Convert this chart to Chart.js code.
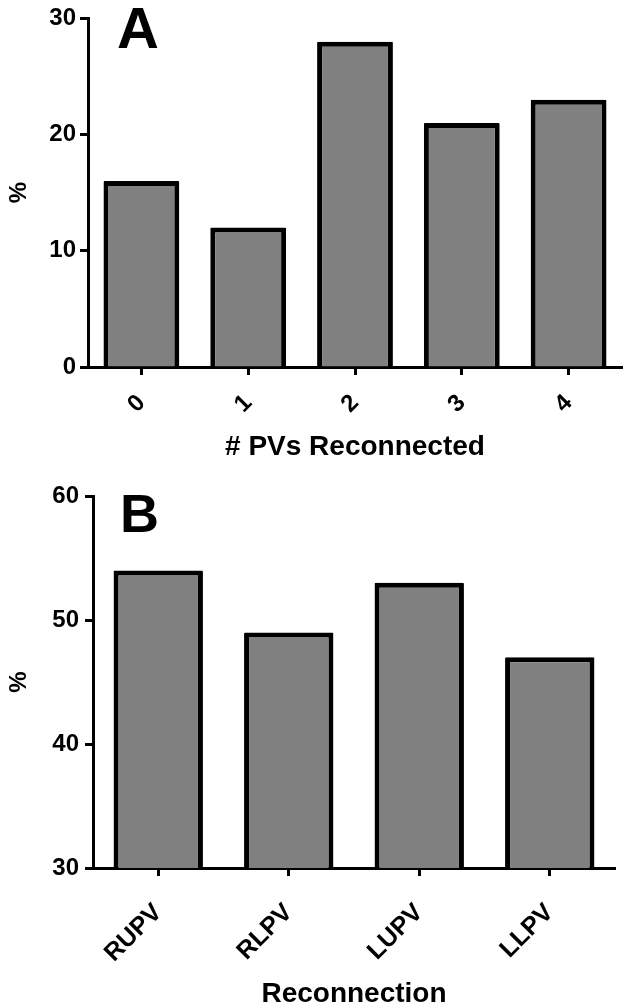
<!DOCTYPE html>
<html>
<head>
<meta charset="utf-8">
<script src="https://cdn.jsdelivr.net/npm/chart.js@4/dist/chart.umd.min.js"></script>
<style>
  body { margin: 0; background: #fff; }
  canvas { position: absolute; left: 0; }
  #chartA { top: 0; }
  #chartB { top: 470px; }
</style>
</head>
<body>
<canvas id="chartA" width="625" height="470"></canvas>
<canvas id="chartB" width="625" height="538"></canvas>
<script>
// panel A: number of PVs reconnected
const pvCounts = ["0", "1", "2", "3", "4"];
const pvPercent = [16, 12, 28, 21, 23];
const pvTicks = [0, 10, 20, 30];

// panel B: which vein reconnected
const veins = ["RUPV", "RLPV", "LUPV", "LLPV"];
const veinPercent = [54, 49, 53, 47];
const veinTicks = [30, 40, 50, 60];

const FONT = '"Liberation Sans", Arial, sans-serif';

const panelLetter = {
    id: 'panelLetter',
    afterDraw(chart, args, opts) {
        const ctx = chart.ctx;
        ctx.save();
        ctx.font = 'bold ' + opts.size + 'px ' + FONT;
        ctx.fillStyle = '#000';
        ctx.textBaseline = 'alphabetic';
        ctx.fillText(opts.text, opts.x, opts.y);
        ctx.restore();
    }
};

function makeChart(canvasId, labels, values, ticks, o) {
    const config = {
        type: 'bar',
        data: {
            labels: labels,
            datasets: [{
                data: values,
                backgroundColor: '#808080',
                borderColor: '#000',
                borderWidth: 5,
                borderRadius: 1,
                barPercentage: o.barPct,
                categoryPercentage: 1
            }]
        },
        options: {
            responsive: false,
            animation: false,
            layout: { padding: o.padding },
            plugins: {
                legend: { display: false },
                tooltip: { enabled: false },
                panelLetter: o.letter
            },
            scales: {
                x: {
                    grid: { offset: false, drawOnChartArea: false, drawTicks: true,
                            tickLength: 8, tickWidth: 3, tickColor: '#000' },
                    border: { color: '#000', width: 3 },
                    ticks: {
                        color: '#000', font: { family: FONT, size: o.xTickSize, weight: 'bold' },
                        minRotation: 45, maxRotation: 45, autoSkip: false, padding: o.xTickPad
                    },
                    title: {
                        display: true, text: o.xTitle, color: '#000',
                        font: { family: FONT, size: 28, weight: 'bold' },
                        padding: { top: 0, bottom: o.xTitlePad }
                    },
                    afterFit: s => { s.height = o.xHeight; }
                },
                y: {
                    min: ticks[0],
                    max: ticks[ticks.length - 1],
                    afterBuildTicks: s => { s.ticks = ticks.map(v => ({ value: v })); },
                    grid: { drawOnChartArea: false, drawTicks: true,
                            tickLength: 8, tickWidth: 3, tickColor: '#000' },
                    border: { color: '#000', width: 3 },
                    ticks: {
                        color: '#000', font: { family: FONT, size: 24, weight: 'bold' },
                        padding: o.yTickPad
                    },
                    title: {
                        display: true, text: '%', color: '#000',
                        font: { family: FONT, size: 24, weight: 'bold' },
                        padding: { top: 5, bottom: 0 }
                    },
                    afterFit: s => { s.width = o.yWidth; }
                }
            }
        },
        plugins: [panelLetter]
    };
    return new Chart(document.getElementById(canvasId), config);
}

makeChart('chartA', pvCounts, pvPercent, pvTicks, {
    barPct: 0.71,
    padding: { top: 18, right: 3, left: 0, bottom: 0 },
    xTickSize: 24, xTickPad: 14, xTitle: '# PVs Reconnected', xTitlePad: 6,
    xHeight: 103, yWidth: 88, yTickPad: 4,
    letter: { text: 'A', x: 117, y: 48, size: 58 }
});

makeChart('chartB', veins, veinPercent, veinTicks, {
    barPct: 0.685,
    padding: { top: 26, right: 10, left: 0, bottom: 0 },
    xTickSize: 25, xTickPad: 22, xTitle: 'Reconnection', xTitlePad: -3,
    xHeight: 140, yWidth: 93, yTickPad: 6,
    letter: { text: 'B', x: 120, y: 62, size: 54 }
});
</script>
</body>
</html>
